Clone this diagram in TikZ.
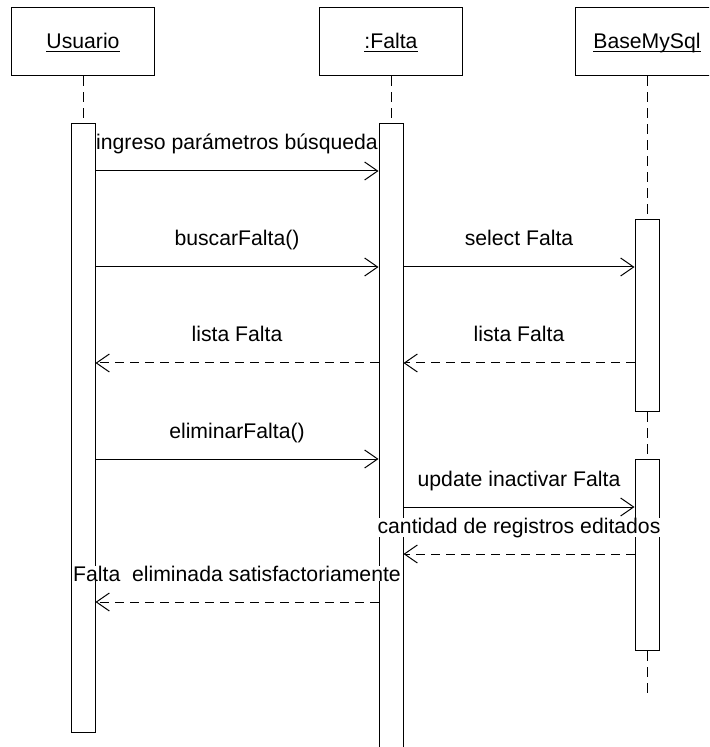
\documentclass[tikz,border=0pt]{standalone}
\usepackage{fontspec}
\setmainfont{Liberation Sans}
\usetikzlibrary{arrows.meta, positioning}

\newcommand{\objname}[1]{\underline{\smash{#1}}}

\tikzset{
    obj/.style={draw, fill=white, minimum width=71.5pt, minimum height=34pt, inner sep=0pt,
        text height=7.6pt, text depth=1.2pt},
    actbar/.style={draw, fill=white, minimum width=12pt, anchor=north, inner sep=0pt},
    lifeline/.style={dash pattern=on 5pt off 3pt},
    msg/.style={-{Straight Barb[length=6.5pt, width=9pt]}},
    reply/.style={msg, dash pattern=on 4.5pt off 3pt},
    lbl/.style={fill=white, inner sep=0pt, anchor=base, yshift=10.5pt}
}

\begin{document}
\begin{tikzpicture}[x=0.5pt, y=-0.5pt, line width=0.5pt, font=\fontsize{10.6}{12.7}\selectfont]
        \useasboundingbox (0,0) rectangle (709,747);
        \clip (0,0) rectangle (709,747);

        % Objetos
        \node[obj] (usr) at (83,42) {\objname{Usuario}};
        \node[obj] (fal) at (391,42) {\objname{:Falta}};
        \node[obj] (db) at (647,42) {\objname{BaseMySql}};

        % Barras de activacion
        \node[actbar, minimum height=304.5pt] (usrbar) at (83,123) {};
        \node[actbar, minimum height=320pt] (falbar) at (391,123) {};
        \node[actbar, minimum height=96pt] (dbbar1) at (647,219) {};
        \node[actbar, minimum height=95.5pt] (dbbar2) at (647,459) {};
        \coordinate (dbend) at (647,694);

        % Lineas de vida
        \draw[lifeline] (usr.south) -- (usrbar.north);
        \draw[lifeline] (fal.south) -- (falbar.north);
        \draw[lifeline] (db.south) -- (dbbar1.north);
        \draw[lifeline] (dbbar1.south) -- (dbbar2.north);
        \draw[lifeline] (dbbar2.south) -- (dbend);

        % Mensajes
        \coordinate (m1) at (0,171);
        \coordinate (m2) at (0,267);
        \coordinate (m3) at (0,363);
        \coordinate (m4) at (0,459);
        \coordinate (m5) at (0,507);
        \coordinate (m6) at (0,554);
        \coordinate (m7) at (0,602);

        \draw[msg] (m1 -| usrbar.east) -- (m1 -| falbar.west)
            node[midway, lbl] {ingreso parámetros búsqueda};
        \draw[msg] (m2 -| usrbar.east) -- (m2 -| falbar.west)
            node[midway, lbl] {buscarFalta()};
        \draw[msg] (m2 -| falbar.east) -- (m2 -| dbbar1.west)
            node[midway, lbl] {select Falta};
        \draw[reply] (m3 -| dbbar1.west) -- (m3 -| falbar.east)
            node[midway, lbl] {lista Falta};
        \draw[reply] (m3 -| falbar.west) -- (m3 -| usrbar.east)
            node[midway, lbl] {lista Falta};
        \draw[msg] (m4 -| usrbar.east) -- (m4 -| falbar.west)
            node[midway, lbl] {eliminarFalta()};
        \draw[msg] (m5 -| falbar.east) -- (m5 -| dbbar2.west)
            node[midway, lbl] {update inactivar Falta};
        \draw[reply] (m6 -| dbbar2.west) -- (m6 -| falbar.east)
            node[midway, lbl] {cantidad de registros editados};
        \draw[reply] (m7 -| falbar.west) -- (m7 -| usrbar.east)
            node[midway, lbl] {Falta~ eliminada satisfactoriamente};

    \end{tikzpicture}
\end{document}
